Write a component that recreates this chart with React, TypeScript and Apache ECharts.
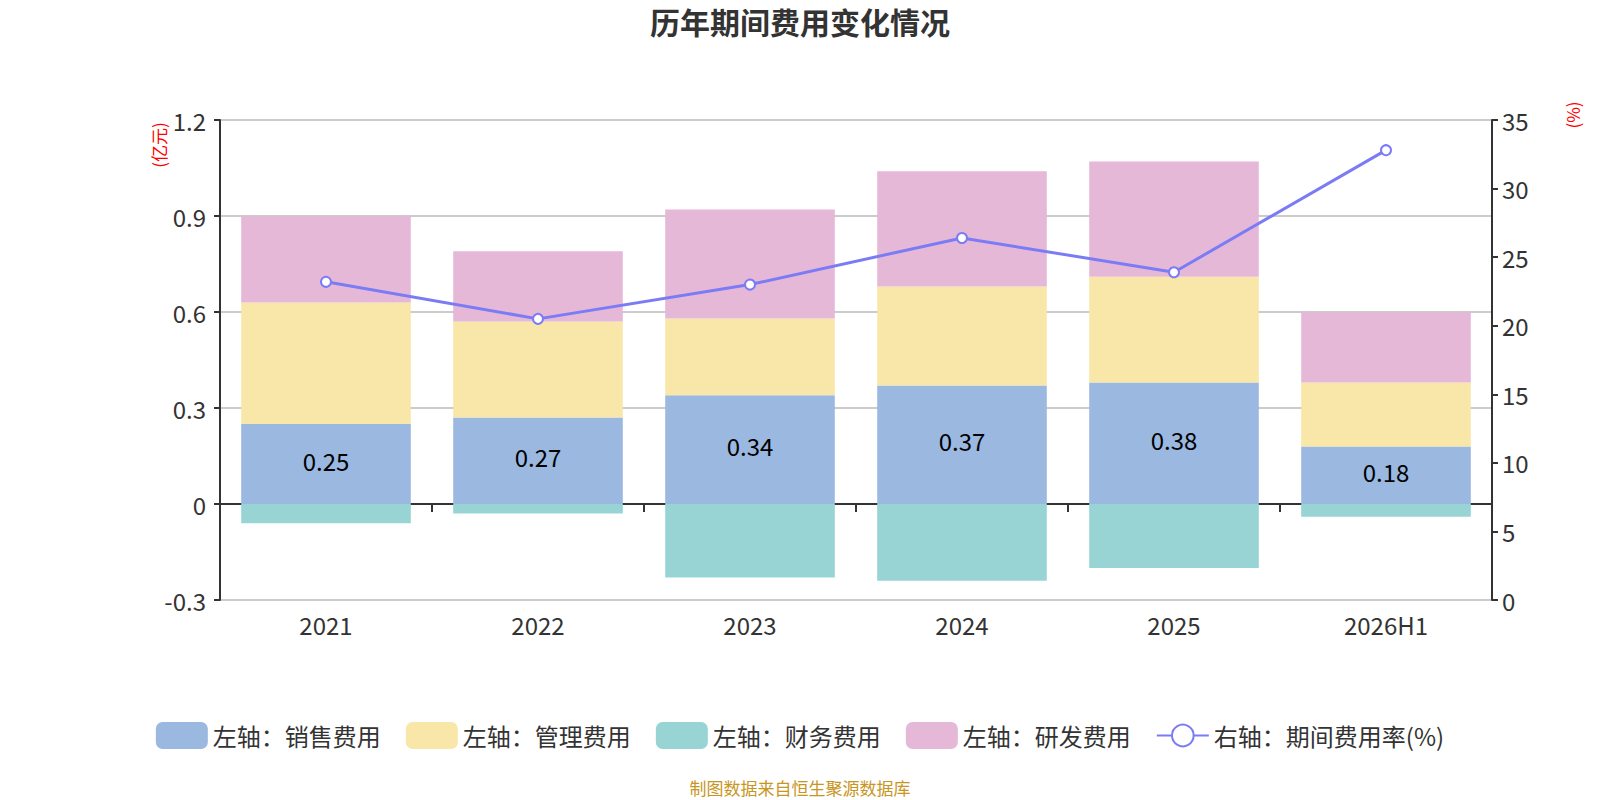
import React, { useRef, useEffect } from 'react'
import * as echarts from 'echarts'

const categories = ['2021', '2022', '2023', '2024', '2025', '2026H1']
const salesCost = [0.25, 0.27, 0.34, 0.37, 0.38, 0.18]
const adminCost = [0.38, 0.3, 0.24, 0.31, 0.33, 0.2]
const financeCost = [-0.06, -0.03, -0.23, -0.24, -0.2, -0.04]
const rdCost = [0.27, 0.22, 0.34, 0.36, 0.36, 0.22]
const expenseRate = [23.2, 20.5, 23.0, 26.4, 23.9, 32.8]

const FONT = '"Noto Sans CJK SC", "Noto Sans", sans-serif'

function App() {
  const chartRef = useRef(null)

  useEffect(() => {
    document.body.style.margin = '0'
    const chart = echarts.init(chartRef.current, null, { renderer: 'svg' })

    const barSeries = (name, data, color, withLabel = false) => ({
      name,
      type: 'bar',
      stack: 'cost',
      barWidth: '80%',
      data,
      itemStyle: { color },
      label: withLabel
        ? { show: true, position: 'inside', offset: [0, -4], color: '#000', fontSize: 24, fontFamily: FONT }
        : { show: false },
    })

    const option = {
      animation: false,
      textStyle: { fontFamily: FONT },
      title: {
        text: '历年期间费用变化情况',
        left: 'center',
        top: 1,
        textStyle: { fontSize: 30, fontWeight: 'bold', color: '#333', fontFamily: FONT },
      },
      legend: {
        bottom: 46,
        left: 'center',
        itemWidth: 52,
        itemHeight: 27,
        itemGap: 25,
        textStyle: { fontSize: 24, color: '#333', fontFamily: FONT },
        data: [
          { name: '左轴：销售费用', icon: 'roundRect' },
          { name: '左轴：管理费用', icon: 'roundRect' },
          { name: '左轴：财务费用', icon: 'roundRect' },
          { name: '左轴：研发费用', icon: 'roundRect' },
          { name: '右轴：期间费用率(%)' },
        ],
      },
      grid: { left: 220, right: 108, top: 120, bottom: 200 },
      xAxis: [
        {
          type: 'category',
          data: categories,
          axisLine: { onZero: true, lineStyle: { color: '#333', width: 2 } },
          axisTick: { show: true, length: 8, lineStyle: { color: '#333', width: 2 } },
          axisLabel: { show: false },
        },
        {
          type: 'category',
          data: categories,
          position: 'bottom',
          axisLine: { show: false },
          axisTick: { show: false },
          axisLabel: { show: true, fontSize: 24, color: '#333', margin: 12, fontFamily: FONT },
        },
      ],
      yAxis: [
        {
          type: 'value',
          min: -0.3,
          max: 1.2,
          interval: 0.3,
          axisLine: { show: true, lineStyle: { color: '#333', width: 2 } },
          axisTick: { show: true, length: 6, lineStyle: { color: '#333', width: 2 } },
          axisLabel: {
            fontSize: 24,
            color: '#333',
            margin: 14,
            fontFamily: FONT,
            formatter: (v) => (Math.abs(v) < 1e-9 ? '0' : String(Math.round(v * 10) / 10)),
          },
          splitLine: { show: true, lineStyle: { color: '#ccc', width: 2 } },
        },
        {
          type: 'value',
          min: 0,
          max: 35,
          interval: 5,
          position: 'right',
          axisLine: { show: true, lineStyle: { color: '#333', width: 2 } },
          axisTick: { show: true, length: 6, lineStyle: { color: '#333', width: 2 } },
          axisLabel: { fontSize: 24, color: '#333', margin: 10, fontFamily: FONT },
          splitLine: { show: false },
        },
      ],
      graphic: [
        {
          type: 'text',
          x: 158,
          y: 145,
          rotation: Math.PI / 2,
          style: {
            text: '(亿元)',
            fill: '#ff0000',
            fontSize: 17,
            fontFamily: FONT,
            align: 'center',
            verticalAlign: 'middle',
          },
        },
        {
          type: 'text',
          x: 1572,
          y: 115,
          rotation: Math.PI / 2,
          style: {
            text: '(%)',
            fill: '#ff0000',
            fontSize: 17,
            fontFamily: FONT,
            align: 'center',
            verticalAlign: 'middle',
          },
        },
        {
          type: 'text',
          left: 'center',
          top: 779,
          style: { text: '制图数据来自恒生聚源数据库', fill: '#c8961e', fontSize: 17, fontFamily: FONT },
        },
      ],
      series: [
        barSeries('左轴：销售费用', salesCost, '#9bb8e0', true),
        barSeries('左轴：管理费用', adminCost, '#f8e7a9'),
        barSeries('左轴：财务费用', financeCost, '#98d4d4'),
        barSeries('左轴：研发费用', rdCost, '#e6b8d8'),
        {
          name: '右轴：期间费用率(%)',
          type: 'line',
          yAxisIndex: 1,
          data: expenseRate,
          symbol: 'emptyCircle',
          symbolSize: 10,
          lineStyle: { color: '#7b7cf5', width: 3 },
          itemStyle: { color: '#7b7cf5', borderWidth: 2 },
          z: 5,
        },
      ],
    }

    chart.setOption(option)

    return () => {
      chart.dispose()
    }
  }, [])

  return <div ref={chartRef} style={{ width: 1600, height: 800 }}></div>
}

export default App
